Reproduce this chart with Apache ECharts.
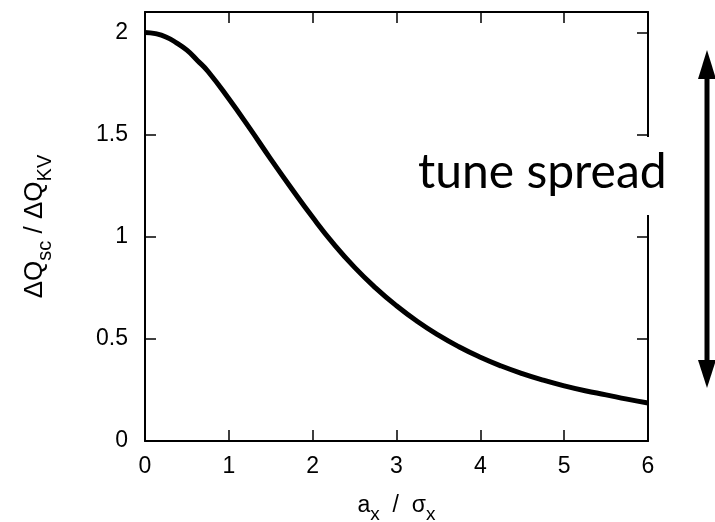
<!DOCTYPE html>
<html>
<head>
<meta charset="utf-8">
<script src="https://cdn.jsdelivr.net/npm/echarts@6/dist/echarts.min.js"></script>
<style>html,body{margin:0;padding:0;background:#fff}#c{width:715px;height:522px}</style>
</head>
<body>
<div id="c"></div>
<script>
// amplitude a_x / sigma_x
const amplitude = [0,0.125,0.25,0.375,0.5,0.625,0.75,1,1.25,1.5,1.75,2,2.25,2.5,2.75,3,3.25,3.5,3.75,4,4.25,4.5,4.75,5,5.25,5.5,5.75,6];
// tune shift ratio dQsc / dQKV
const tuneShiftRatio = [2.000,1.994,1.978,1.949,1.913,1.863,1.810,1.675,1.530,1.380,1.235,1.095,0.965,0.850,0.750,0.662,0.585,0.518,0.460,0.410,0.367,0.330,0.298,0.270,0.246,0.226,0.205,0.186];
const xTicks = [0,1,2,3,4,5,6];
const yTicks = [0,0.5,1,1.5,2];
const annotationText = 'tune spread';

const chart = echarts.init(document.getElementById('c'));
const FONT = 'Liberation Sans';
const axisLineStyle = {color:'#000', width:2};
const tickStyle = {color:'#000', width:1.5};
const line = {show:true, onZero:false, lineStyle:axisLineStyle};
const tick = {show:true, inside:true, length:11, lineStyle:tickStyle};
const xRich = {
  m:{fontSize:23, fontFamily:FONT, color:'#000', verticalAlign:'bottom', lineHeight:28},
  s:{fontSize:19, fontFamily:FONT, color:'#000', verticalAlign:'bottom', lineHeight:28, padding:[0,0,-7,0]}
};
const yRich = {
  m:{fontSize:26, fontFamily:FONT, color:'#000', verticalAlign:'bottom', lineHeight:30},
  s:{fontSize:20, fontFamily:FONT, color:'#000', verticalAlign:'bottom', lineHeight:30, padding:[0,0,-7,0]}
};
chart.setOption({
  animation:false,
  backgroundColor:'#fff',
  grid:{left:145, right:67, top:12, bottom:81, containLabel:false, outerBoundsMode:'none'},
  xAxis:[{
    type:'value', min:0, max:6, interval:1, position:'bottom',
    axisLine:line, axisTick:tick,
    axisLabel:{color:'#000', fontSize:23, fontFamily:FONT, margin:14,
      formatter:v=>xTicks.includes(v)?String(v):''},
    splitLine:{show:false},
    name:'{m|a}{s|x}{m|  /  σ}{s|x}', nameLocation:'middle', nameGap:48,
    nameTextStyle:{color:'#000', fontFamily:FONT, rich:xRich}
  },{
    type:'value', min:0, max:6, interval:1, position:'top',
    axisLine:line, axisTick:tick,
    axisLabel:{show:false}, splitLine:{show:false}
  }],
  yAxis:[{
    type:'value', min:0, max:2.1, interval:0.5, position:'left',
    axisLine:line, axisTick:tick,
    axisLabel:{color:'#000', fontSize:23, fontFamily:FONT, margin:17, showMaxLabel:false,
      formatter:v=>yTicks.includes(v)?String(v):''},
    splitLine:{show:false},
    name:'{m|ΔQ}{s|sc}{m| / ΔQ}{s|KV}', nameLocation:'middle', nameGap:97,
    nameTextStyle:{color:'#000', fontFamily:FONT, rich:yRich}
  },{
    type:'value', min:0, max:2.1, interval:0.5, position:'right',
    axisLine:line, axisTick:tick,
    axisLabel:{show:false}, splitLine:{show:false}
  }],
  series:[{
    type:'line', xAxisIndex:0, yAxisIndex:0, smooth:0.5, symbol:'none',
    lineStyle:{color:'#000', width:5},
    data: amplitude.map((a,i)=>[a, tuneShiftRatio[i]])
  }],
  graphic:[
    {type:'rect', z:100, shape:{x:638, y:137, width:20, height:78}, style:{fill:'#fff'}},
    {type:'text', z:101, x:418, y:173, style:{text:annotationText, fontFamily:'Lato', fontSize:48, fill:'#000', textAlign:'left', textVerticalAlign:'middle'}},
    {type:'line', z:101, shape:{x1:707, y1:72, x2:707, y2:366}, style:{stroke:'#000', lineWidth:5}},
    {type:'polygon', z:101, shape:{points:[[707,50],[698,79],[716,79]]}, style:{fill:'#000'}},
    {type:'polygon', z:101, shape:{points:[[707,388],[698,360],[716,360]]}, style:{fill:'#000'}}
  ]
});
</script>
</body>
</html>
